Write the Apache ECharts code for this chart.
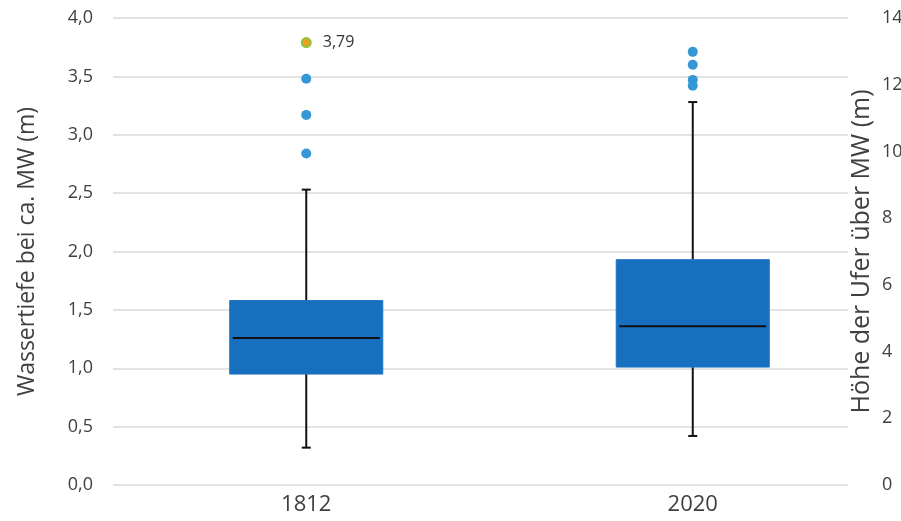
<!DOCTYPE html>
<html>
<head>
<meta charset="utf-8">
<script src="https://cdn.jsdelivr.net/npm/echarts@6/dist/echarts.min.js"></script>
<style>
  html, body { margin: 0; padding: 0; background: #ffffff; }
  #chart { width: 901px; height: 521px; }
</style>
</head>
<body>
<div id="chart"></div>
<script>
// Box statistics per survey year (water depth at mean water, m)
const years = ['1812', '2020'];
const whiskerLow = [0.32, 0.42];
const quartile1 = [0.95, 1.01];
const medians = [1.26, 1.36];
const quartile3 = [1.58, 1.93];
const whiskerHigh = [2.53, 3.28];

// Outliers above the upper whisker
const outliers1812 = [3.48, 3.17, 2.84];
const outliers2020 = [3.71, 3.60, 3.47, 3.42];

// Maximum value, highlighted and labelled
const maxYear = '1812';
const maxValue = 3.79;

// Left and right axis ranges
const depthTicks = { min: 0, max: 4, interval: 0.5 };
const bankTicks = { min: 0, max: 14, interval: 2 };

const FONT = 'Open Sans';
const fmtComma = (v, d) => v.toFixed(d).replace('.', ',');

const boxData = years.map((y, i) => [i, whiskerLow[i], quartile1[i], medians[i], quartile3[i], whiskerHigh[i]]);
const outlierData = []
  .concat(outliers1812.map(v => ['1812', v]))
  .concat(outliers2020.map(v => ['2020', v]));

function renderBox(params, api) {
  const x = api.value(0);
  const lo = api.coord([x, api.value(1)]);
  const q1 = api.coord([x, api.value(2)]);
  const med = api.coord([x, api.value(3)]);
  const q3 = api.coord([x, api.value(4)]);
  const hi = api.coord([x, api.value(5)]);
  const half = api.size([1, 0])[0] * 0.198;
  const cx = med[0];
  const cap = 4.5;
  const lineStyle = { stroke: '#111111', lineWidth: 2 };
  return {
    type: 'group',
    children: [
      { type: 'line', shape: { x1: cx, y1: hi[1], x2: cx, y2: q3[1] }, style: lineStyle },
      { type: 'line', shape: { x1: cx - cap, y1: hi[1], x2: cx + cap, y2: hi[1] }, style: lineStyle },
      { type: 'line', shape: { x1: cx, y1: q1[1], x2: cx, y2: lo[1] }, style: lineStyle },
      { type: 'line', shape: { x1: cx - cap, y1: lo[1], x2: cx + cap, y2: lo[1] }, style: lineStyle },
      {
        type: 'rect',
        shape: { x: cx - half, y: q3[1], width: half * 2, height: q1[1] - q3[1] },
        style: { fill: '#1770bf', stroke: '#1f74c0', lineWidth: 1 }
      },
      { type: 'line', shape: { x1: cx - half + 3, y1: med[1], x2: cx + half - 3, y2: med[1] }, style: lineStyle }
    ]
  };
}

const chart = echarts.init(document.getElementById('chart'), null, { renderer: 'canvas' });

chart.setOption({
  animation: false,
  backgroundColor: '#ffffff',
  textStyle: { fontFamily: FONT },
  grid: [
    { left: 113, right: 53, top: 18, bottom: 36, containLabel: false, outerBoundsMode: 'none' },
    { left: 113, right: 15, top: 18, bottom: 36, containLabel: false, outerBoundsMode: 'none' }
  ],
  xAxis: [
    { type: 'value', gridIndex: 0, show: false, min: 0, max: 1 },
    {
      type: 'category', gridIndex: 1, data: years,
      axisLine: { show: false }, axisTick: { show: false },
      axisLabel: { color: '#404040', fontSize: 22, fontFamily: FONT, margin: 9 }
    }
  ],
  yAxis: [
    {
      type: 'value', gridIndex: 0, position: 'left',
      min: depthTicks.min, max: depthTicks.max, interval: depthTicks.interval,
      name: 'Wassertiefe bei ca. MW (m)', nameLocation: 'middle', nameGap: 74, nameMoveOverlap: false,
      nameTextStyle: { color: '#404040', fontSize: 23, fontFamily: FONT },
      axisLine: { show: false }, axisTick: { show: false },
      axisLabel: { color: '#404040', fontSize: 18, fontFamily: FONT, margin: 20, formatter: v => fmtComma(v, 1) },
      splitLine: { lineStyle: { color: '#d9d9d9', width: 1.5 } }
    },
    {
      type: 'value', gridIndex: 0, position: 'right',
      min: bankTicks.min, max: bankTicks.max, interval: bankTicks.interval,
      name: 'Höhe der Ufer über MW (m)', nameLocation: 'middle', nameGap: 1, nameMoveOverlap: false,
      nameTextStyle: { color: '#404040', fontSize: 25, fontFamily: FONT },
      axisLine: { show: false }, axisTick: { show: false },
      axisLabel: { color: '#404040', fontSize: 18, fontFamily: FONT, margin: 34, align: 'left' },
      splitLine: { show: false }
    },
    {
      type: 'value', gridIndex: 1, show: false,
      min: depthTicks.min, max: depthTicks.max, interval: depthTicks.interval,
      splitLine: { show: false }
    }
  ],
  series: [
    {
      type: 'custom', xAxisIndex: 1, yAxisIndex: 2,
      renderItem: renderBox,
      encode: { x: 0, y: [1, 2, 3, 4, 5] },
      data: boxData, z: 2
    },
    {
      type: 'scatter', xAxisIndex: 1, yAxisIndex: 2,
      symbol: 'circle', symbolSize: 10,
      itemStyle: { color: '#3597d6', opacity: 1 },
      data: outlierData, z: 3
    },
    {
      type: 'scatter', xAxisIndex: 1, yAxisIndex: 2,
      symbol: 'circle', symbolSize: 9,
      itemStyle: { color: '#e8a21f', borderColor: '#8fc43e', borderWidth: 2, opacity: 1 },
      label: {
        show: true, position: 'right', distance: 11,
        color: '#333333', fontSize: 16, fontFamily: FONT,
        formatter: p => fmtComma(p.value[1], 2)
      },
      data: [[maxYear, maxValue]], z: 4
    }
  ]
});
</script>
</body>
</html>
